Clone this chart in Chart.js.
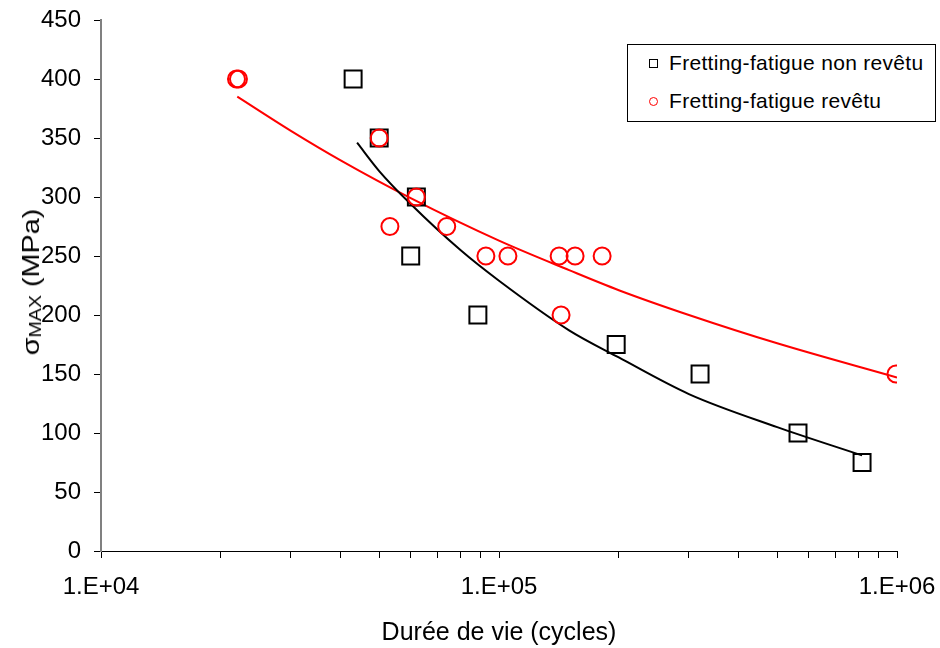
<!DOCTYPE html>
<html>
<head>
<meta charset="utf-8">
<script src="https://cdn.jsdelivr.net/npm/chart.js@4.4.1/dist/chart.umd.min.js"></script>
<style>
    html, body { margin: 0; padding: 0; background: #fff; }
    #wrap { position: relative; width: 940px; height: 648px; font-family: 'Liberation Sans', Arial, sans-serif; color: #000; }
    #y-title { position: absolute; left: 31px; top: 282px; transform: translate(-50%, -50%) rotate(-90deg) scaleX(1.2); font-size: 24px; white-space: nowrap; }
    #y-title .sub { font-size: 0.68em; vertical-align: -0.12em; }
    #legend { position: absolute; left: 627px; top: 44px; width: 307px; height: 76px; border: 1px solid #000; background: #fff; }
    .leg-row { position: absolute; left: 0; height: 26px; display: flex; align-items: center; font-size: 21px; letter-spacing: 0.3px; white-space: nowrap; }
    .leg-row .mk { width: 18px; margin-left: 16px; margin-right: 7px; display: flex; justify-content: center; }
    .mk-rect { width: 7px; height: 7px; border: 1.5px solid #000; }
    .mk-circle { width: 7px; height: 7px; border: 1.5px solid #ff0000; border-radius: 50%; }
</style>
</head>
<body>
<div id="wrap">
    <canvas id="chart" width="940" height="648"></canvas>
    <div id="y-title">σ<span class="sub">MAX</span> (MPa)</div>
    <div id="legend"></div>
</div>
<script>
// points
const labelNonRevetu = 'Fretting-fatigue non revêtu';
const labelRevetu = 'Fretting-fatigue revêtu';

const cyclesNonRevetu = [43000, 50000, 60000, 62000, 88500, 197000, 320000, 564000, 817000];
const sigmaNonRevetu = [400, 350, 250, 300, 200, 175, 150, 100, 75];

const cyclesRevetu = [21900, 22150, 50000, 53200, 62000, 73900, 92700, 105300, 141600, 143200, 155300, 181600, 994000];
const sigmaRevetu = [400, 400, 350, 275, 300, 275, 250, 250, 250, 200, 250, 250, 150];

// trend curves
const trendCyclesNonRevetu = [44000, 50000, 60000, 80000, 100000, 150000, 200000, 300000, 500000, 817000];
const trendSigmaNonRevetu = [346, 322, 294, 255, 229, 187, 164, 133, 105, 81];

const trendCyclesRevetu = [22000, 30000, 40000, 60000, 100000, 150000, 200000, 300000, 500000, 1000000];
const trendSigmaRevetu = [385, 356, 331, 299, 263, 238, 221, 200, 176, 147];

const xTickValues = [10000, 20000, 30000, 40000, 50000, 60000, 70000, 80000, 90000,
    100000, 200000, 300000, 400000, 500000, 600000, 700000, 800000, 900000, 1000000];
const xTickLabels = { 10000: '1.E+04', 100000: '1.E+05', 1000000: '1.E+06' };
const yMin = 0;
const yMax = 450;
const yStep = 50;

const FONT = "'Liberation Sans', Arial, sans-serif";

const toPoints = (xs, ys) => xs.map((x, i) => ({ x, y: ys[i] }));

function buildLegend() {
    const legend = document.getElementById('legend');
    const items = [
        { text: labelNonRevetu, cls: 'mk-rect', top: 5 },
        { text: labelRevetu, cls: 'mk-circle', top: 43 },
    ];
    legend.innerHTML = items.map((item) => `
        <div class="leg-row" style="top:${item.top}px">
            <span class="mk"><span class="${item.cls}"></span></span>
            <span>${item.text}</span>
        </div>
    `).join('');
}

function initChart() {
    new Chart(document.getElementById('chart'), {
        type: 'scatter',
        data: {
            datasets: [
                {
                    label: labelNonRevetu,
                    data: toPoints(cyclesNonRevetu, sigmaNonRevetu),
                    pointStyle: 'rect',
                    pointRadius: 12,
                    pointBorderWidth: 2,
                    borderColor: '#000',
                    backgroundColor: 'rgba(0,0,0,0)',
                    order: 2,
                },
                {
                    label: labelRevetu,
                    data: toPoints(cyclesRevetu, sigmaRevetu),
                    pointStyle: 'circle',
                    pointRadius: 8.5,
                    pointBorderWidth: 2,
                    borderColor: '#ff0000',
                    backgroundColor: 'rgba(0,0,0,0)',
                    order: 1,
                },
                {
                    label: 'trend non revêtu',
                    data: toPoints(trendCyclesNonRevetu, trendSigmaNonRevetu),
                    showLine: true,
                    pointRadius: 0,
                    borderColor: '#000',
                    borderWidth: 2,
                    cubicInterpolationMode: 'monotone',
                    order: 3,
                },
                {
                    label: 'trend revêtu',
                    data: toPoints(trendCyclesRevetu, trendSigmaRevetu),
                    showLine: true,
                    pointRadius: 0,
                    borderColor: '#ff0000',
                    borderWidth: 2,
                    cubicInterpolationMode: 'monotone',
                    order: 4,
                },
            ],
        },
        options: {
            responsive: false,
            animation: false,
            devicePixelRatio: 1,
            layout: { padding: { top: 20, right: 43, left: 0, bottom: 0 } },
            plugins: {
                legend: { display: false },
                tooltip: { enabled: false },
            },
            scales: {
                x: {
                    type: 'logarithmic',
                    position: 'bottom',
                    min: 10000,
                    max: 1000000,
                    afterBuildTicks: (scale) => { scale.ticks = xTickValues.map((value) => ({ value })); },
                    afterFit: (scale) => {
                        scale.height = 97;
                        scale.paddingLeft = 0;
                        scale.paddingRight = 0;
                    },
                    border: { color: '#000', width: 1 },
                    grid: { drawOnChartArea: false, drawTicks: true, tickLength: 7, color: '#000' },
                    ticks: {
                        autoSkip: false,
                        maxRotation: 0,
                        padding: 15,
                        color: '#000',
                        font: { family: FONT, size: 24 },
                        callback: (value) => xTickLabels[value] || '',
                    },
                    title: {
                        display: true,
                        text: 'Durée de vie (cycles)',
                        color: '#000',
                        font: { family: FONT, size: 25 },
                        padding: { top: 0, bottom: 0 },
                    },
                },
                y: {
                    min: yMin,
                    max: yMax,
                    afterFit: (scale) => {
                        scale.width = 101;
                        scale.paddingTop = 0;
                        scale.paddingBottom = 0;
                    },
                    border: { color: '#808080', width: 2 },
                    grid: { drawOnChartArea: false, drawTicks: true, tickLength: 7, color: '#000' },
                    ticks: {
                        stepSize: yStep,
                        padding: 13,
                        color: '#000',
                        font: { family: FONT, size: 24 },
                    },
                },
            },
        },
    });
}

buildLegend();
initChart();
</script>
</body>
</html>
